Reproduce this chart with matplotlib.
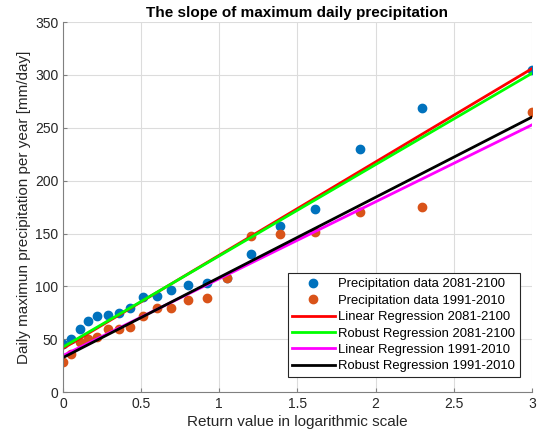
import numpy as np
import matplotlib
matplotlib.use('Agg')
import matplotlib.pyplot as plt

plt.rcParams['font.family'] = ['Liberation Sans', 'DejaVu Sans']

# x: return value in logarithmic scale
x = np.array([0.00, 0.05, 0.11, 0.16, 0.22, 0.29, 0.36, 0.43, 0.51, 0.60,
              0.69, 0.80, 0.92, 1.05, 1.20, 1.39, 1.61, 1.90, 2.30, 3.00])
# daily maximum precipitation [mm/day]
p_future = np.array([45, 50, 60, 67, 72, 73, 75, 80, 90, 91,
                     97, 101, 103, 108, 131, 157, 173, 230, 269, 305])
p_past = np.array([28, 36, 47, 50, 52, 60, 60, 62, 72, 80,
                   80, 87, 89, 108, 148, 150, 151, 170, 175, 265])

labels = ['Precipitation data 2081-2100', 'Precipitation data 1991-2010',
          'Linear Regression 2081-2100', 'Robust Regression 2081-2100',
          'Linear Regression 1991-2010', 'Robust Regression 1991-2010']


def robust_fit(xv, yv, k=4.685, n_iter=50):
    # bisquare IRLS, like matlab robustfit
    X = np.column_stack([np.ones_like(xv, dtype=float), xv])
    H = X @ np.linalg.pinv(X.T @ X) @ X.T
    h = np.clip(np.diag(H), 0, 0.9999)
    adj = 1 / np.sqrt(1 - h)
    b = np.linalg.lstsq(X, yv, rcond=None)[0]
    for _ in range(n_iter):
        r = (yv - X @ b) * adj
        s = np.median(np.sort(np.abs(r))[1:]) / 0.6745
        u = r / (k * max(s, 1e-9))
        w = np.where(np.abs(u) < 1, (1 - u ** 2) ** 2, 0)
        W = np.sqrt(w)
        b = np.linalg.lstsq(X * W[:, None], yv * W, rcond=None)[0]
    return b[1], b[0]


fig = plt.figure(figsize=(5.41, 4.43), dpi=100)
ax = fig.add_axes([0.1165, 0.115, 0.8665, 0.835])

ax.plot(x, p_future, 'o', color='#0072BD', markersize=6, label=labels[0])
ax.plot(x, p_past, 'o', color='#D95319', markersize=6, label=labels[1])

xx = np.array([x.min(), x.max()])
m, c = np.polyfit(x, p_future, 1)
ax.plot(xx, m * xx + c, color='#FF0000', lw=2, label=labels[2])
m, c = robust_fit(x, p_future)
ax.plot(xx, m * xx + c, color='#00FF00', lw=2, label=labels[3])
m, c = np.polyfit(x, p_past, 1)
ax.plot(xx, m * xx + c, color='#FF00FF', lw=2, label=labels[4])
m, c = robust_fit(x, p_past)
ax.plot(xx, m * xx + c, color='k', lw=2, label=labels[5])

ax.set_xlim(0, 3)
ax.set_ylim(0, 350)
ax.set_xticks(np.arange(0, 3.01, 0.5))
ax.set_xticklabels(['0', '0.5', '1', '1.5', '2', '2.5', '3'])
ax.set_yticks(np.arange(0, 351, 50))
ax.grid(True, color='#dcdcdc', lw=0.8)
ax.set_axisbelow(True)
for s in ['top', 'right']:
    ax.spines[s].set_visible(False)
for s in ['left', 'bottom']:
    ax.spines[s].set_color('#808080')
ax.tick_params(direction='in', length=3, colors='#808080', labelcolor='#262626', labelsize=10)

ax.set_title('The slope of maximum daily precipitation', fontsize=11, fontweight='bold', pad=3.5)
ax.set_xlabel('Return value in logarithmic scale', fontsize=11, color='#262626', labelpad=3)
ax.set_ylabel('Daily maximun precipitation per year [mm/day]', fontsize=11, color='#262626', labelpad=3)

leg = ax.legend(loc='lower right', bbox_to_anchor=(0.9612, 0.149),
                bbox_transform=fig.transFigure, borderaxespad=0,
                fontsize=9.4, fancybox=False, framealpha=1,
                edgecolor='#262626', handlelength=3.25, borderpad=0.35,
                labelspacing=0.33, handletextpad=0.3, numpoints=1)
leg.get_frame().set_linewidth(0.8)

plt.savefig('out.png', dpi=100)
